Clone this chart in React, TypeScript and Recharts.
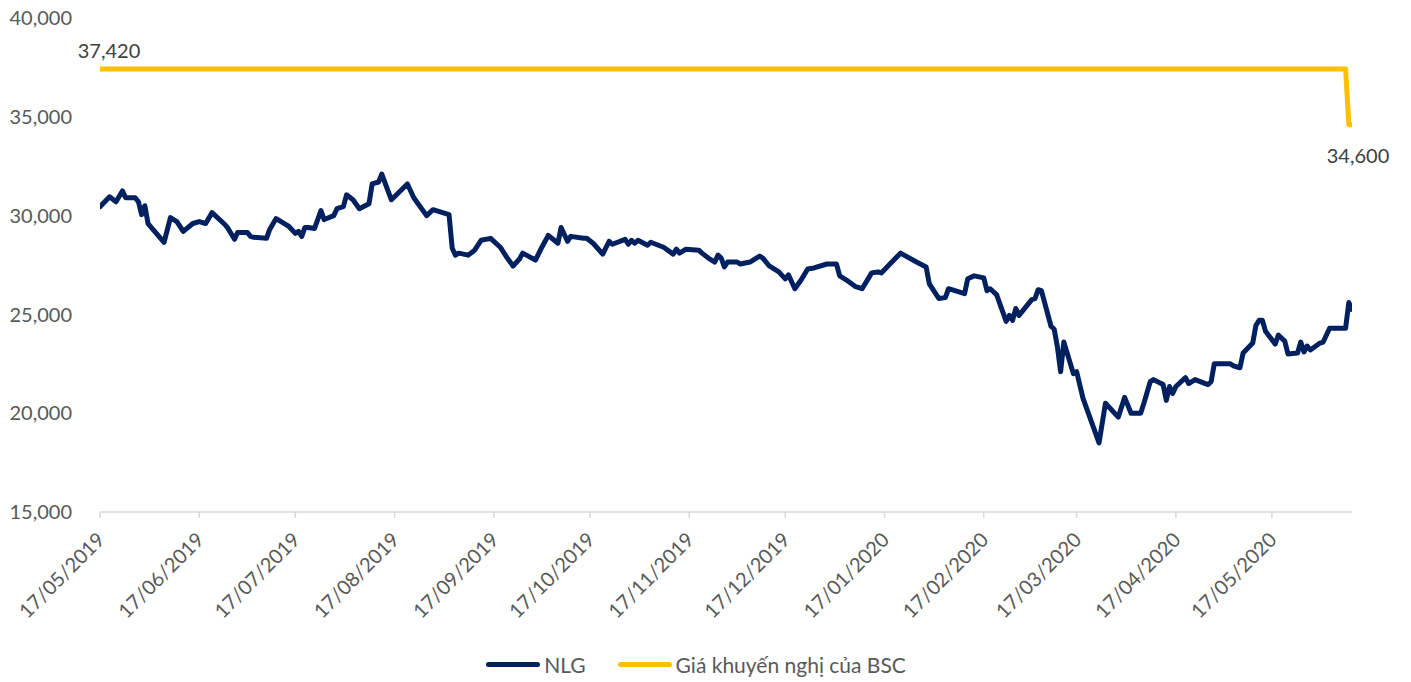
import React from 'react';
import {
  LineChart, Line, XAxis, YAxis, Legend, LabelList,
} from 'recharts';

// days counted from 17/05/2019 (the first trading day shown)
const START = Date.UTC(2019, 4, 17);

const nlgDayOffsets = [
  0, 3, 5, 7, 8, 11, 12, 13, 14, 15, 20, 22, 24, 26, 29, 31, 33, 35, 39, 40,
  42, 43, 46, 47, 48, 52, 53, 55, 59, 61, 62, 63, 64, 65, 67, 69, 70, 73, 74, 76,
  77, 79, 81, 84, 85, 87, 88, 91, 96, 98, 102, 104, 106, 109, 110, 111, 112, 115, 117, 119,
  122, 125, 127, 129, 131, 132, 136, 138, 140, 143, 144, 146, 147, 151, 152, 154, 157, 159, 160, 164,
  165, 166, 167, 168, 171, 172, 176, 179, 180, 181, 183, 187, 188, 190, 192, 193, 194, 195, 196, 199,
  200, 203, 206, 207, 209, 212, 214, 215, 216, 217, 219, 221, 223, 227, 230, 231, 233, 236, 238, 241,
  243, 244, 247, 250, 255, 258, 259, 262, 264, 265, 270, 271, 273, 276, 277, 278, 280, 283, 284, 285,
  286, 287, 291, 292, 293, 294, 297, 298, 299, 300, 301, 304, 305, 307, 312, 314, 318, 320, 322, 325,
  326, 328, 329, 332, 333, 334, 335, 336, 339, 340, 342, 346, 347, 348, 353, 354, 356, 357, 360, 361,
  362, 363, 364, 367, 368, 370, 371, 374, 375, 376, 377, 378, 381, 382, 384, 389, 390, 391,
];

const nlgPrices = [
  30450, 30950, 30700, 31250, 30900, 30900, 30700, 30050, 30500, 29600, 28650, 29900, 29700, 29200, 29600, 29700, 29600, 30150, 29550, 29350,
  28800, 29150, 29150, 28950, 28900, 28850, 29300, 29850, 29450, 29100, 29200, 28950, 29400, 29400, 29350, 30250, 29800, 30000, 30350, 30450,
  31050, 30800, 30350, 30600, 31600, 31700, 32100, 30800, 31600, 30900, 30000, 30300, 30200, 30050, 28350, 28000, 28100, 28000, 28250, 28750,
  28850, 28400, 27900, 27450, 27800, 28100, 27750, 28400, 29000, 28600, 29400, 28700, 28950, 28850, 28850, 28600, 28050, 28700, 28550, 28800,
  28550, 28750, 28600, 28750, 28500, 28650, 28400, 28050, 28300, 28100, 28300, 28250, 28100, 27850, 27650, 28000, 27850, 27400, 27650, 27650,
  27550, 27650, 27950, 27850, 27450, 27150, 26800, 27000, 26650, 26300, 26750, 27300, 27350, 27550, 27550, 26950, 26750, 26400, 26300, 27100,
  27150, 27100, 27600, 28100, 27650, 27400, 26550, 25800, 25850, 26300, 26050, 26800, 26950, 26850, 26200, 26300, 26000, 24650, 24950, 24700,
  25300, 24950, 25750, 25800, 26250, 26200, 24400, 24250, 23350, 22100, 23600, 22000, 22100, 20750, 18500, 20500, 19800, 20800, 20000, 20000,
  20500, 21600, 21700, 21450, 20650, 21350, 21000, 21350, 21800, 21500, 21700, 21450, 21600, 22500, 22500, 22400, 22300, 23050, 23550, 24450,
  24700, 24700, 24150, 23500, 23950, 23650, 23000, 23050, 23600, 23100, 23400, 23200, 23550, 23600, 24300, 24300, 25600, 25250,
];

const bscDayOffsets = [0, 389, 390, 391];
const bscPrices = [37420, 37420, 34600, 34600];

const yTicks = [15000, 20000, 25000, 30000, 35000, 40000];

const xTickLabels = [
  '17/05/2019', '17/06/2019', '17/07/2019', '17/08/2019', '17/09/2019', '17/10/2019',
  '17/11/2019', '17/12/2019', '17/01/2020', '17/02/2020', '17/03/2020', '17/04/2020', '17/05/2020',
];

const toOffset = (s: string) => {
  const [dd, mm, yy] = s.split('/').map(Number);
  return Math.round((Date.UTC(yy, mm - 1, dd) - START) / 86400000);
};

const xTicks = xTickLabels.map(toOffset);

const nlgData = nlgDayOffsets.map((d, i) => ({ d, nlg: nlgPrices[i] }));
const bscData = bscDayOffsets.map((d, i) => ({ d, bsc: bscPrices[i] }));

const FONT = "Lato, 'Open Sans', sans-serif";
const NAVY = '#002060';
const GOLD = '#FFC000';

const fmt = (v: number) => v.toLocaleString('en-US');

const DateTick = ({ x, y, payload }: any) => {
  const idx = xTicks.indexOf(payload.value);
  const label = idx >= 0 ? xTickLabels[idx] : '';
  const tx = x + 6;
  const ty = y + 21;
  return (
    <text
      x={tx}
      y={ty}
      textAnchor="end"
      transform={`rotate(-45 ${tx} ${ty})`}
      fill="#595959"
      fontSize={20}
      fontFamily={FONT}
    >
      {label}
    </text>
  );
};

const BscLabel = (props: any) => {
  const { x, y, value, index } = props;
  if (index === 0) {
    return (
      <text x={x + 9} y={y - 11} textAnchor="middle" fill="#404040" fontSize={20} fontFamily={FONT}>
        {fmt(value)}
      </text>
    );
  }
  if (index === bscPrices.length - 1) {
    return (
      <text x={x + 6} y={y + 38} textAnchor="middle" fill="#404040" fontSize={20} fontFamily={FONT}>
        {fmt(value)}
      </text>
    );
  }
  return <g />;
};

const renderLegend = () => (
  <div
    style={{
      height: 28,
      display: 'flex',
      justifyContent: 'center',
      alignItems: 'center',
      paddingLeft: 40,
      fontFamily: FONT,
      fontSize: 21,
      color: '#595959',
    }}
  >
    {[
      { name: 'NLG', color: NAVY },
      { name: 'Giá khuyến nghị của BSC', color: GOLD },
    ].map((item, i) => (
      <div key={item.name} style={{ display: 'flex', alignItems: 'center', marginLeft: i ? 32 : 0 }}>
        <span
          style={{
            display: 'inline-block',
            width: 54,
            height: 5,
            borderRadius: 3,
            background: item.color,
            marginRight: 4,
          }}
        />
        <span>{item.name}</span>
      </div>
    ))}
  </div>
);

export default function App() {
  return (
    <div style={{ position: 'absolute', left: 0, top: 0, width: 1411, height: 682, background: '#fff' }}>
      <LineChart width={1411} height={682} margin={{ top: 18, right: 59, bottom: 4, left: 0 }}>
        <XAxis
          dataKey="d"
          type="number"
          domain={[0, 391]}
          ticks={xTicks}
          allowDataOverflow
          height={138}
          axisLine={{ stroke: '#d9d9d9', strokeWidth: 1.5 }}
          tickLine={{ stroke: '#d9d9d9', strokeWidth: 1.5 }}
          tickSize={6}
          tick={<DateTick />}
          interval={0}
        />
        <YAxis
          type="number"
          domain={[15000, 40000]}
          ticks={yTicks}
          width={100}
          axisLine={false}
          tickLine={false}
          tickSize={6}
          tickMargin={22}
          tickFormatter={fmt}
          tick={{ fill: '#595959', fontSize: 20, fontFamily: FONT }}
        />
        <Line
          data={nlgData}
          dataKey="nlg"
          name="NLG"
          type="linear"
          stroke={NAVY}
          strokeWidth={5}
          strokeLinejoin="round"
          strokeLinecap="round"
          dot={false}
          activeDot={false}
          isAnimationActive={false}
        />
        <Line
          data={bscData}
          dataKey="bsc"
          name="Giá khuyến nghị của BSC"
          type="linear"
          stroke={GOLD}
          strokeWidth={5}
          strokeLinejoin="round"
          strokeLinecap="round"
          dot={false}
          activeDot={false}
          isAnimationActive={false}
        >
          <LabelList dataKey="bsc" content={<BscLabel />} />
        </Line>
        <Legend verticalAlign="bottom" content={renderLegend} />
      </LineChart>
    </div>
  );
}
